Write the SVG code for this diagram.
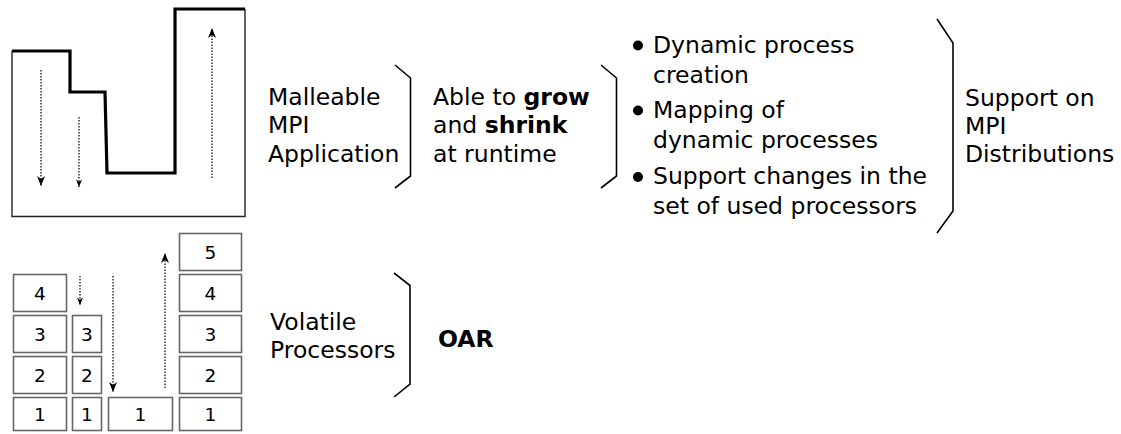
<svg xmlns="http://www.w3.org/2000/svg" width="1121" height="434" viewBox="0 0 1121 434">
  <style>
    text { font-family: "DejaVu Sans", "Liberation Sans", sans-serif; fill: #000; }
    .lbl { font-size: 23.5px; }
    .b { font-weight: bold; }
    .num { font-size: 18.5px; text-anchor: middle; }
    .frame { fill: none; stroke: #222; stroke-width: 1.4; }
    .profile { fill: none; stroke: #000; stroke-width: 3.2; stroke-linejoin: miter; }
    .cell { fill: #fff; stroke: #666; stroke-width: 1.6; }
    .brace { fill: none; stroke: #000; stroke-width: 1.6; stroke-linejoin: miter; }
    .dot { fill: none; stroke: #222; stroke-width: 1.4; stroke-dasharray: 1.4 1.6; }
  </style>
  <defs>
    <marker id="head" viewBox="0 0 10 8" refX="10" refY="4" markerWidth="11" markerHeight="8" markerUnits="userSpaceOnUse" orient="auto">
      <path d="M0,0 L10,4 L0,8 L3,4 Z" fill="#000"/>
    </marker>
    <marker id="headSmall" viewBox="0 0 10 8" refX="10" refY="4" markerWidth="8" markerHeight="6" markerUnits="userSpaceOnUse" orient="auto">
      <path d="M0,0 L10,4 L0,8 L3,4 Z" fill="#000"/>
    </marker>
  </defs>

  <!-- Application load profile over time -->
  <g id="app-profile">
    <path class="frame" d="M12,51 L12,216.5 L245,216.5 L245,9"/>
    <path class="profile" d="M12,51 L70,51 L70,92 L105,92 L107,173 L175,173 L175,9 L245,9"/>
  </g>

  <!-- Processor stacks -->
  <g id="proc-col1">
    <rect class="cell" x="13.5" y="274.5" width="53" height="37"/><text class="num" x="40" y="299.5">4</text>
    <rect class="cell" x="13.5" y="315.5" width="53" height="37"/><text class="num" x="40" y="340.5">3</text>
    <rect class="cell" x="13.5" y="356.5" width="53" height="37"/><text class="num" x="40" y="381.5">2</text>
    <rect class="cell" x="13.5" y="397.5" width="53" height="33"/><text class="num" x="40" y="420.5">1</text>
  </g>
  <g id="proc-col2">
    <rect class="cell" x="72.5" y="315.5" width="29" height="37"/><text class="num" x="87" y="340.5">3</text>
    <rect class="cell" x="72.5" y="356.5" width="29" height="37"/><text class="num" x="87" y="381.5">2</text>
    <rect class="cell" x="72.5" y="397.5" width="29" height="33"/><text class="num" x="87" y="420.5">1</text>
  </g>
  <g id="proc-col3">
    <rect class="cell" x="108.5" y="397.5" width="64" height="33"/><text class="num" x="140.5" y="420.5">1</text>
  </g>
  <g id="proc-col4">
    <rect class="cell" x="179.5" y="233.5" width="62" height="37"/><text class="num" x="210.5" y="258.5">5</text>
    <rect class="cell" x="179.5" y="274.5" width="62" height="37"/><text class="num" x="210.5" y="299.5">4</text>
    <rect class="cell" x="179.5" y="315.5" width="62" height="37"/><text class="num" x="210.5" y="340.5">3</text>
    <rect class="cell" x="179.5" y="356.5" width="62" height="37"/><text class="num" x="210.5" y="381.5">2</text>
    <rect class="cell" x="179.5" y="397.5" width="62" height="33"/><text class="num" x="210.5" y="420.5">1</text>
  </g>

  <!-- Dotted shrink / grow arrows -->
  <g id="arrows">
    <line class="dot" x1="41" y1="70" x2="41" y2="186" marker-end="url(#head)"/>
    <line class="dot" x1="79" y1="117" x2="79" y2="187" marker-end="url(#headSmall)"/>
    <line class="dot" x1="212" y1="178" x2="212" y2="28" marker-end="url(#head)"/>
    <line class="dot" x1="80" y1="276" x2="80" y2="305" marker-end="url(#headSmall)"/>
    <line class="dot" x1="113" y1="276" x2="113" y2="392" marker-end="url(#head)"/>
    <line class="dot" x1="165" y1="388" x2="165" y2="253" marker-end="url(#head)"/>
  </g>

  <!-- Braces -->
  <g id="braces">
    <path class="brace" d="M395,65 L410.5,78 L410.5,176 L395,188"/>
    <path class="brace" d="M601,65 L616.5,78 L616.5,176 L601,188"/>
    <path class="brace" d="M937,19 L953,43 L953,211 L937,233"/>
    <path class="brace" d="M394,273 L410,285.5 L410,384 L394,397"/>
  </g>

  <g id="malleable-app">
    <text class="lbl" x="268" y="105">Malleable</text>
    <text class="lbl" x="268" y="133">MPI</text>
    <text class="lbl" x="268" y="162">Application</text>
  </g>

  <g id="grow-shrink">
    <text class="lbl" x="433" y="105">Able to <tspan class="b">grow</tspan></text>
    <text class="lbl" x="433" y="133">and <tspan class="b">shrink</tspan></text>
    <text class="lbl" x="433" y="162">at runtime</text>
  </g>

  <g id="requirements">
    <circle cx="638" cy="45.5" r="5"/>
    <text class="lbl" x="653" y="53">Dynamic process</text>
    <text class="lbl" x="653" y="83">creation</text>
    <circle cx="638" cy="110.5" r="5"/>
    <text class="lbl" x="653" y="118">Mapping of</text>
    <text class="lbl" x="653" y="148">dynamic processes</text>
    <circle cx="638" cy="177" r="5"/>
    <text class="lbl" x="653" y="184">Support changes in the</text>
    <text class="lbl" x="653" y="214">set of used processors</text>
  </g>

  <g id="mpi-support">
    <text class="lbl" x="965" y="106">Support on</text>
    <text class="lbl" x="965" y="134">MPI</text>
    <text class="lbl" x="965" y="162">Distributions</text>
  </g>

  <g id="volatile-procs">
    <text class="lbl" x="270" y="330">Volatile</text>
    <text class="lbl" x="270" y="358">Processors</text>
  </g>

  <g id="oar">
    <text class="lbl b" x="438" y="347">OAR</text>
  </g>
</svg>
